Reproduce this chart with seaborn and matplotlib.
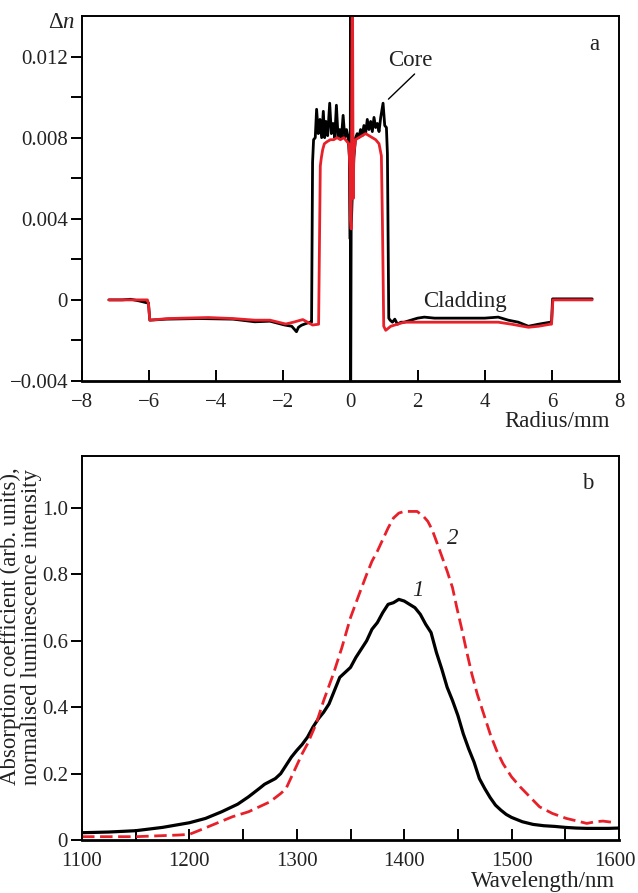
import matplotlib
matplotlib.use("Agg")
import matplotlib.pyplot as plt
import matplotlib.transforms as mtransforms
import seaborn as sns
import numpy as np
import pandas as pd

# ---------------- data: panel a (refractive index profile) ----------------
radius_black = [-7.2, -6.8, -6.55, -6.3, -6.05, -6.02, -5.98, -5.5, -4.5, -3.5, -2.85, -2.4, -1.96,
                -1.75, -1.61, -1.55, -1.46, -1.35, -1.21, -1.16, -1.13, -1.10, -1.05, -1.01, -0.96,
                -0.91, -0.86, -0.81, -0.77, -0.73, -0.68, -0.62, -0.57, -0.52, -0.47, -0.42, -0.37,
                -0.32, -0.27, -0.22, -0.17, -0.12, -0.07, -0.03, -0.01, 0.0, 0.005, 0.02, 0.05,
                0.1, 0.15, 0.2, 0.25, 0.3, 0.35, 0.4, 0.45, 0.5, 0.55, 0.6, 0.65, 0.7, 0.75, 0.8,
                0.85, 0.9, 0.97, 1.02, 1.07, 1.10, 1.14, 1.18, 1.25, 1.32, 1.4, 1.5, 1.6, 1.8, 2.0,
                2.2, 2.5, 3.0, 3.5, 4.0, 4.4, 4.7, 5.0, 5.3, 5.6, 5.95, 5.99, 6.02, 6.5, 7.2]
dn_black = [0.0, 0.0, 0.00003, -0.00005, -0.00015, -0.00015, -0.00100, -0.00095, -0.00092, -0.00095,
            -0.00108, -0.00105, -0.00124, -0.00130, -0.00157, -0.00135, -0.00125, -0.00118, -0.00110,
            -0.00110, 0.0068, 0.0079, 0.0080, 0.0094, 0.0082, 0.0089, 0.0080, 0.0093, 0.0080, 0.0088,
            0.0081, 0.0097, 0.0082, 0.0087, 0.0080, 0.0096, 0.0080, 0.0084, 0.0080, 0.0091, 0.0080,
            0.0084, 0.0080, 0.0070, 0.0030, 0.0150, -0.0045, 0.0035, 0.0050, 0.0070, 0.0080, 0.0082,
            0.0080, 0.0084, 0.0081, 0.0086, 0.0082, 0.0089, 0.0084, 0.0088, 0.0083, 0.0090, 0.0085,
            0.0087, 0.0083, 0.0090, 0.0097, 0.0086, 0.0085, 0.0072, -0.0009, -0.0010, -0.0011,
            -0.00095, -0.0012, -0.0011, -0.0011, -0.0010, -0.0009, -0.00085, -0.0009, -0.0009,
            -0.0009, -0.0009, -0.00085, -0.0010, -0.0011, -0.0013, -0.0012, -0.0011, -0.0011,
            0.00005, 0.00005, 0.00005]

radius_red = [-7.2, -6.5, -6.05, -6.02, -5.98, -5.43, -4.24, -3.5, -2.85, -2.4, -1.93, -1.7, -1.42,
              -1.28, -1.13, -0.95, -0.90, -0.87, -0.83, -0.78, -0.7, -0.6, -0.5, -0.4, -0.3, -0.2,
              -0.1, -0.05, -0.02, 0.0, 0.02, 0.05, 0.06, 0.08, 0.1, 0.15, 0.25, 0.35, 0.45, 0.55,
              0.65, 0.75, 0.85, 0.92, 0.95, 0.99, 1.05, 1.2, 1.4, 1.6, 2.0, 2.5, 3.0, 3.5, 4.0,
              4.4, 4.8, 5.3, 5.6, 5.95, 5.99, 6.03, 6.5, 7.2]
dn_red = [0.0, 0.0, 0.0, -0.0002, -0.0010, -0.00092, -0.00087, -0.00092, -0.0010, -0.0010,
          -0.00119, -0.00110, -0.00097, -0.00110, -0.00124, -0.00120, 0.0066, 0.0070, 0.0074,
          0.0077, 0.0078, 0.0079, 0.0079, 0.0080, 0.0079, 0.0080, 0.0078, 0.0077, 0.0065,
          0.0040, 0.0035, 0.0150, 0.0150, 0.0050, 0.0072, 0.0079, 0.0080, 0.0081, 0.0082, 0.0081,
          0.0080, 0.0079, 0.0077, 0.0071, 0.0040, -0.0013, -0.0015, -0.0013, -0.0012, -0.0011,
          -0.0011, -0.0011, -0.0011, -0.0011, -0.0011, -0.0011, -0.0012, -0.00135, -0.0013,
          -0.0012, -0.0012, 0.0, 0.0, 0.0]

# ---------------- data: panel b (spectra) ----------------
wl_1 = [1100, 1125, 1150, 1175, 1200, 1215, 1230, 1245, 1255, 1265, 1270, 1280, 1285, 1290, 1295,
        1300, 1305, 1310, 1315, 1320, 1325, 1330, 1335, 1340, 1345, 1350, 1355, 1360, 1365, 1370,
        1375, 1380, 1385, 1390, 1395, 1400, 1405, 1410, 1415, 1420, 1425, 1430, 1435, 1440, 1445,
        1450, 1455, 1460, 1465, 1470, 1475, 1480, 1485, 1490, 1495, 1500, 1510, 1520, 1530, 1540,
        1550, 1560, 1570, 1580, 1590, 1600]
abs_1 = [0.022, 0.024, 0.028, 0.038, 0.052, 0.065, 0.085, 0.108, 0.13, 0.155, 0.168, 0.185, 0.20,
         0.225, 0.25, 0.27, 0.288, 0.31, 0.34, 0.365, 0.385, 0.41, 0.45, 0.49, 0.505, 0.52, 0.55,
         0.575, 0.60, 0.635, 0.655, 0.685, 0.71, 0.715, 0.725, 0.72, 0.71, 0.70, 0.68, 0.65,
         0.625, 0.565, 0.515, 0.46, 0.42, 0.375, 0.32, 0.275, 0.235, 0.185, 0.155, 0.128, 0.105,
         0.09, 0.077, 0.068, 0.055, 0.047, 0.043, 0.041, 0.038, 0.036, 0.035, 0.035, 0.035, 0.036]

wl_2 = [1100, 1150, 1190, 1200, 1210, 1225, 1240, 1255, 1265, 1275, 1285, 1290, 1295, 1300, 1305,
        1310, 1318, 1325, 1334, 1342, 1350, 1358, 1365, 1370, 1375, 1380, 1385, 1390, 1395, 1400,
        1405, 1412, 1418, 1422, 1426, 1430, 1435, 1440, 1445, 1449, 1454, 1458, 1463, 1468, 1474,
        1480, 1486, 1492, 1500, 1508, 1517, 1526, 1538, 1551, 1560, 1570, 1578, 1585, 1597]
lum_2 = [0.010, 0.010, 0.015, 0.017, 0.030, 0.050, 0.070, 0.085, 0.100, 0.115, 0.140, 0.155,
         0.190, 0.225, 0.260, 0.290, 0.350, 0.420, 0.500, 0.580, 0.670, 0.740, 0.800, 0.840,
         0.870, 0.905, 0.940, 0.970, 0.985, 0.990, 0.990, 0.990, 0.975, 0.960, 0.935, 0.900,
         0.855, 0.810, 0.760, 0.700, 0.630, 0.570, 0.500, 0.440, 0.380, 0.320, 0.270, 0.230,
         0.190, 0.160, 0.130, 0.100, 0.080, 0.065, 0.058, 0.050, 0.055, 0.057, 0.052]

x_ticks_a = [-8, -6, -4, -2, 0, 2, 4, 6, 8]
y_ticks_a = [-0.004, -0.002, 0.0, 0.002, 0.004, 0.006, 0.008, 0.010, 0.012]
y_labels_a = ["\u22120.004", "", "0", "", "0.004", "", "0.008", "", "0.012"]
x_ticks_b = [1100, 1150, 1200, 1250, 1300, 1350, 1400, 1450, 1500, 1550, 1600]
x_labels_b = ["1100", "", "1200", "", "1300", "", "1400", "", "1500", "", "1600"]
y_ticks_b = [0, 0.2, 0.4, 0.6, 0.8, 1.0]
y_labels_b = ["0", "0.2", "0.4", "0.6", "0.8", "1.0"]

# ---------------- style ----------------
sns.set_theme(style="white")
plt.rcParams["font.family"] = ["Liberation Serif", "DejaVu Serif"]
plt.rcParams["mathtext.fontset"] = "custom"
plt.rcParams["mathtext.rm"] = "Liberation Serif"
plt.rcParams["mathtext.it"] = "Liberation Serif:italic"
FS = 15      # tick labels
FL = 16.5    # other texts
TXT = "#222222"

W, H = 638, 893
fig = plt.figure(figsize=(W / 100, H / 100), dpi=100)

def fr(x0, y0, x1, y1):
    return [x0 / W, 1 - y1 / H, (x1 - x0) / W, (y1 - y0) / H]

ax1 = fig.add_axes(fr(82, 16, 619, 381))
ax2 = fig.add_axes(fr(82, 456, 619, 840))

# panel a
dfa_b = pd.DataFrame({"r": radius_black, "dn": dn_black})
dfa_r = pd.DataFrame({"r": radius_red, "dn": dn_red})
sns.lineplot(data=dfa_b, x="r", y="dn", ax=ax1, color="black", lw=2.0, sort=False, estimator=None)
sns.lineplot(data=dfa_r, x="r", y="dn", ax=ax1, color="#e8202a", lw=2.0, sort=False, estimator=None)
ax1.set_xlim(-8, 8)
ax1.set_ylim(-0.004, 0.014)
ax1.set_xticks(x_ticks_a)
ax1.set_xticklabels([str(v).replace("-", "\u2212") for v in x_ticks_a])
ax1.set_yticks(y_ticks_a)
ax1.set_yticklabels(y_labels_a)
ax1.set_xlabel("")
ax1.set_ylabel("")

# panel b
dfb_1 = pd.DataFrame({"wl": wl_1, "v": abs_1})
dfb_2 = pd.DataFrame({"wl": wl_2, "v": lum_2})
sns.lineplot(data=dfb_1, x="wl", y="v", ax=ax2, color="black", lw=2.3, sort=False, estimator=None)
sns.lineplot(data=dfb_2, x="wl", y="v", ax=ax2, color="#e8202a", lw=2.0, sort=False,
             estimator=None, dashes=False, linestyle=(0, (4.5, 2.0)))
ax2.set_xlim(1100, 1600)
ax2.set_ylim(0, 1.157)
ax2.set_xticks(x_ticks_b)
ax2.set_xticklabels(x_labels_b)
ax2.set_yticks(y_ticks_b)
ax2.set_yticklabels(y_labels_b)
ax2.set_xlabel("")
ax2.set_ylabel("")

for ax in (ax1, ax2):
    for s in ax.spines.values():
        s.set_color("black")
        s.set_linewidth(1.4)
        s.set_visible(True)
    ax.spines["bottom"].set_linewidth(2.0)
    ax.tick_params(axis="x", direction="in", length=8, width=1.4, colors="black",
                   labelcolor=TXT, labelsize=FS, pad=8.5, bottom=True, top=False)
    ax.tick_params(axis="y", direction="out", length=8, width=1.4, colors="black",
                   labelcolor=TXT, labelsize=FS, pad=2, left=True, right=False)
    ax.grid(False)

# nudge the last bottom tick label inward like the original
last = ax2.get_xticklabels()[-1]
last.set_transform(last.get_transform() + mtransforms.ScaledTranslation(-4 / 100, 0, fig.dpi_scale_trans))

# text labels
def ftext(x, y, s, **kw):
    kw.setdefault("fontsize", FL)
    kw.setdefault("color", TXT)
    fig.text(x / W, 1 - y / H, s, **kw)

ftext(62, 22, r"$\Delta n$", ha="center", va="center")
ftext(610, 421, "Radius/mm", ha="right", va="center")
ftext(615, 881, "Wavelength/nm", ha="right", va="center")
ftext(594, 44, "a", ha="center", va="center")
ftext(588, 483, "b", ha="center", va="center")
ftext(410, 61, "Core", ha="center", va="center")
ftext(465, 302, "Cladding", ha="center", va="center")
ftext(453, 539, "2", ha="center", va="center", style="italic")
ftext(418, 590, "1", ha="center", va="center", style="italic")
fig.text(21 / W, 1 - 785 / H,
         "Absorption coefficient (arb. units),\nnormalised luminescence intensity",
         rotation=90, ha="center", va="bottom", multialignment="left",
         fontsize=FL, color=TXT, linespacing=1.05)

# pointer line for "Core"
ax1.annotate("", xy=(1.13, 0.0099), xytext=(1.91, 0.01114),
             arrowprops=dict(arrowstyle="-", color="black", lw=1.0, shrinkA=0, shrinkB=0))

fig.savefig("out.png", dpi=100)
